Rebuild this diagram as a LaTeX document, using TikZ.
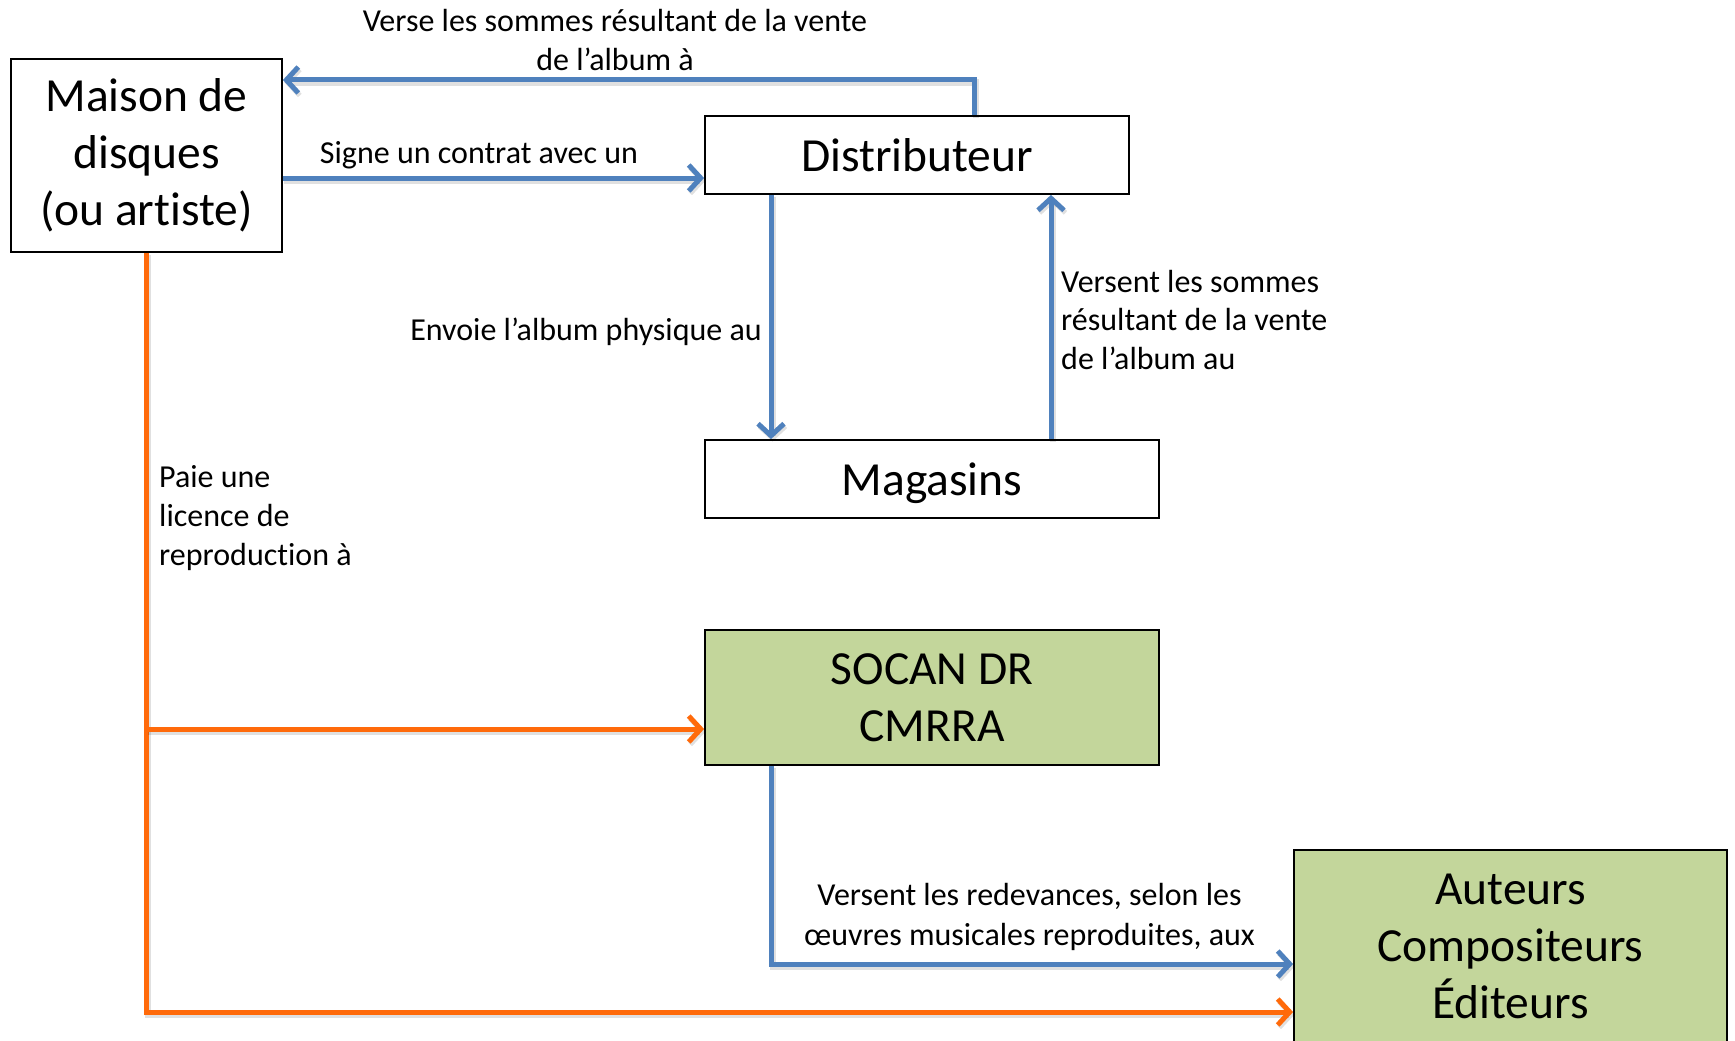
\documentclass[tikz,border=0pt]{standalone}
\usepackage{fontspec}
\setmainfont{Carlito}[Ligatures={NoCommon}]
\usetikzlibrary{arrows.meta}
\definecolor{lineblue}{HTML}{4F81BD}
\definecolor{lineorange}{HTML}{FF6A0A}
\definecolor{boxgreen}{HTML}{C3D69B}
\tikzset{
  box/.style={draw=black, line width=1.8pt, fill=white, inner sep=0pt, align=center,
    font=\fontsize{47.5}{57}\selectfont},
  greenbox/.style={box, fill=boxgreen},
  lbl/.style={inner sep=0pt, align=left, font=\fontsize{32}{38.8}\selectfont},
  conn/.style={line width=5pt, -{Straight Barb[length=12pt,width=26pt,line width=5pt]},
    preaction={draw=black, draw opacity=0.12, line width=6pt,
      transform canvas={shift={(1.5pt,-2.5pt)}}}},
  bluearrow/.style={conn, draw=lineblue},
  orangearrow/.style={conn, draw=lineorange},
}
\begin{document}
\begin{tikzpicture}[x=1pt,y=-1pt]
\useasboundingbox (0,0) rectangle (1735,1041);
\fill[white] (0,0) rectangle (1735,1041);

\node[box, minimum width=271pt, minimum height=193pt] (maison) at (146.5,155.5)
  {Maison de\\disques\\(ou artiste)};
\node[box, minimum width=424pt, minimum height=78pt] (distrib) at (917,155) {Distributeur};
\node[box, minimum width=454pt, minimum height=78pt, text depth=0pt] (magasins) at (932,479) {Magasins};
\node[greenbox, minimum width=454pt, minimum height=135pt] (socan) at (932,697.5) {SOCAN DR\\CMRRA};
\node[greenbox, minimum width=433pt, minimum height=192pt] (auteurs) at (1510.5,946)
  {Auteurs\\Compositeurs\\Éditeurs};

% blue connectors
\draw[bluearrow] (distrib.north -| 974,0) |- (maison.east |- 0,80);
\draw[bluearrow] (maison.east |- 0,178) -- (distrib.west |- 0,178);
\draw[bluearrow] (distrib.south -| 771,0) -- (magasins.north -| 771,0);
\draw[bluearrow] (magasins.north -| 1051,0) -- (distrib.south -| 1051,0);
\draw[bluearrow] (socan.south -| 771,0) |- (auteurs.west |- 0,964);

% orange connectors
\draw[orangearrow] (maison.south) |- (auteurs.west |- 0,1012);
\draw[orangearrow] (maison.south |- 0,729) -- (socan.west |- 0,729);

% labels
\node[lbl, align=center] (l1) at (615,40) {Verse les sommes résultant de la vente\\de l’album à};
\node[lbl] (l2) at (479,155) {Signe un contrat avec un};
\node[lbl, anchor=east] (l3) at (762,332) {Envoie l’album physique au};
\node[lbl, anchor=west] (l4) at (1061,320) {Versent les sommes\\résultant de la vente\\de l’album au};
\node[lbl, anchor=west] (l5) at (159,518) {Paie une\\licence de\\reproduction à};
\node[lbl, align=center, font=\fontsize{32}{40}\selectfont] (l6) at (1029.5,917) {Versent les redevances, selon les\\œuvres musicales reproduites, aux};
\end{tikzpicture}
\end{document}
